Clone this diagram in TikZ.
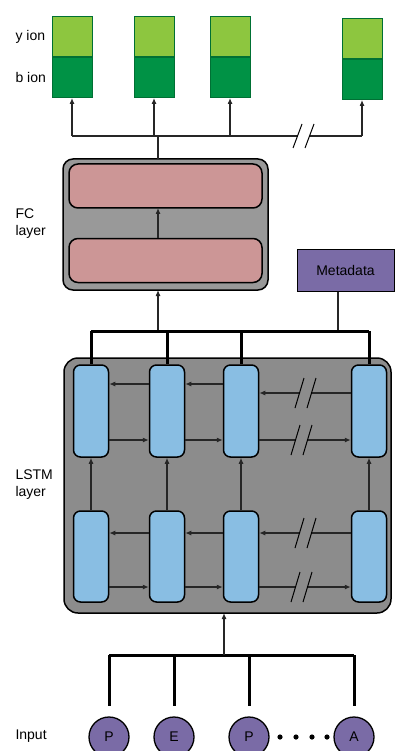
\documentclass[tikz,border=0pt]{standalone}
\usepackage{fontspec}
\setmainfont{Liberation Sans}
\usetikzlibrary{calc, arrows.meta}

\definecolor{ylight}{RGB}{141,198,63}
\definecolor{bdark}{RGB}{0,146,69}
\definecolor{ionedge}{RGB}{0,112,52}
\definecolor{fcgray}{RGB}{153,153,153}
\definecolor{lstmgray}{RGB}{140,140,140}
\definecolor{fcpink}{RGB}{204,150,150}
\definecolor{cellblue}{RGB}{137,190,227}
\definecolor{aapurple}{RGB}{122,107,166}

% two slanted strokes marking a break in a line
\newcommand{\brkmark}[3]{%
  \draw[line width=1pt] ($(#1,#2)+(-11,#3)$) -- ($(#1,#2)+(-2,-#3)$);
  \draw[line width=1pt] ($(#1,#2)+(1,#3)$) -- ($(#1,#2)+(10,-#3)$);
}

\begin{document}
\begin{tikzpicture}[x=1pt, y=-1pt, >={Latex[length=6pt,width=5pt]}, font=\fontsize{14}{17}\selectfont,
  ionbox/.style={draw=ionedge, line width=1pt, minimum width=40pt, minimum height=40pt, inner sep=0pt},
  wire/.style={line width=1.1pt, black!85},
  bus/.style={line width=3pt, black},
  cell/.style={draw, line width=1.5pt, fill=cellblue, rounded corners=7pt, minimum width=35pt, minimum height=92pt, inner sep=0pt},
  fcunit/.style={draw, line width=1.5pt, fill=fcpink, rounded corners=9pt, minimum width=193pt, minimum height=44pt, inner sep=0pt},
  aa/.style={circle, draw, line width=1.3pt, fill=aapurple, minimum size=40pt, inner sep=0pt}]

    \useasboundingbox (0,0) rectangle (394,751);

    % 1. Output ions
    \foreach \i/\x/\y in {1/72/16, 2/154/16, 3/230/16, 4/362/18} {
        \node[ionbox, fill=ylight, anchor=north] (y\i) at (\x,\y) {};
        \node[ionbox, fill=bdark, anchor=north] (b\i) at (y\i.south) {};
    }
    \node[anchor=west] (ylab) at (12,37) {y ion};
    \node[anchor=west] (blab) at (12,77) {b ion};

    % 2. Output bus with break
    \coordinate (obus) at (158,136);
    \draw[wire] (b1.south |- obus) -- (298,136);
    \draw[wire] (310,136) -- (b4.south |- obus);
    \foreach \i in {1,...,4}
        \draw[wire, ->] (b\i.south |- obus) -- (b\i.south);
    \brkmark{304}{136}{12}

    % 3. FC layer
    \draw[line width=1.5pt, fill=fcgray, rounded corners=10pt] (63,159) rectangle (268,290);
    \node[fcunit] (fc2) at (165.5,186) {};
    \node[fcunit] (fc1) at (165.5,260.5) {};
    \draw[wire] (obus) -- (158,159);
    \draw[wire, ->] (158,238) -- (158,208);
    \node[anchor=west, align=left] (fclab) at (12,224) {FC\\layer};

    % 4. Metadata
    \node[draw, line width=1pt, fill=aapurple, minimum width=97pt, minimum height=42pt, inner sep=0pt] (meta) at (345.5,270) {Metadata};
    \coordinate (lbus) at (158,331);
    \draw[wire] (meta.south -| 338,0) -- (338,331);
    \draw[wire, ->] (lbus) -- (158,290);

    % 5. LSTM layer
    \draw[line width=1.5pt, fill=lstmgray, rounded corners=14pt] (64,358) rectangle (391,613);
    \foreach \i/\x in {1/91, 2/167, 3/241, 4/369} {
        \node[cell] (t\i) at (\x,411) {};
        \node[cell, minimum height=91pt] (l\i) at (\x,556.5) {};
        \draw[wire, ->] (l\i.north) -- (t\i.south);
    }
    \draw[bus] (t1.north |- lbus) -- (t4.north |- lbus);
    \foreach \i in {1,...,4}
        \draw[bus] (t\i.north |- lbus) -- (t\i.north);

    % forward / backward passes, top row
    \draw[wire, ->] (t2.west |- 0,384) -- (t1.east |- 0,384);
    \draw[wire, ->] (t3.west |- 0,384) -- (t2.east |- 0,384);
    \draw[wire, ->] (t1.east |- 0,440) -- (t2.west |- 0,440);
    \draw[wire, ->] (t2.east |- 0,440) -- (t3.west |- 0,440);
    \draw[wire] (t4.west |- 0,393) -- (312,393);
    \draw[wire, ->] (300,393) -- (t3.east |- 0,393);
    \brkmark{306}{393}{15}
    \draw[wire] (t3.east |- 0,440) -- (296,440);
    \draw[wire, ->] (308,440) -- (t4.west |- 0,440);
    \brkmark{302}{440}{15}

    % forward / backward passes, bottom row
    \draw[wire, ->] (l2.west |- 0,533) -- (l1.east |- 0,533);
    \draw[wire, ->] (l3.west |- 0,533) -- (l2.east |- 0,533);
    \draw[wire, ->] (l1.east |- 0,587) -- (l2.west |- 0,587);
    \draw[wire, ->] (l2.east |- 0,587) -- (l3.west |- 0,587);
    \draw[wire] (l4.west |- 0,533) -- (312,533);
    \draw[wire, ->] (300,533) -- (l3.east |- 0,533);
    \brkmark{306}{533}{15}
    \draw[wire] (l3.east |- 0,587) -- (296,587);
    \draw[wire, ->] (308,587) -- (l4.west |- 0,587);
    \brkmark{302}{587}{15}

    \node[anchor=west, align=left] (lstmlab) at (12,485) {LSTM\\layer};

    % 6. Input sequence
    \foreach \i/\x/\c in {1/109/P, 2/174/E, 3/249/P, 4/354/A}
        \node[aa] (a\i) at (\x,737) {\c};
    \foreach \x in {280,296,312,327}
        \fill (\x,737) circle (2.6pt);
    \coordinate (ibus) at (224,655);
    \draw[bus] (a1.north |- ibus) -- (a4.north |- ibus);
    \foreach \i in {1,...,4}
        \draw[bus] (a\i.north |- ibus) -- ($(a\i.north)+(0,-10)$);
    \draw[wire, ->] (ibus) -- (224,613);
    \node[anchor=west] (inlab) at (12,736) {Input};

\end{tikzpicture}
\end{document}
